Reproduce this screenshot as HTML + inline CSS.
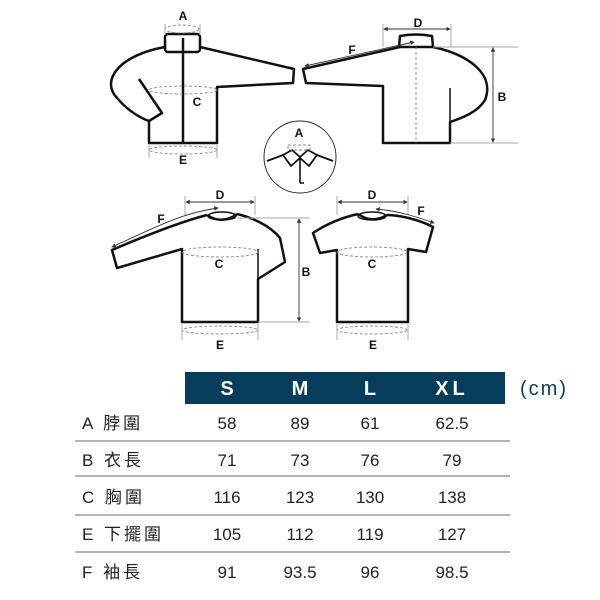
<!DOCTYPE html>
<html><head><meta charset="utf-8"><style>
html,body{margin:0;padding:0;background:#fff;width:600px;height:600px;overflow:hidden}
svg{display:block}
.t{font-family:"Liberation Sans","Noto Sans CJK TC",sans-serif;font-size:17px;fill:#222}
.lb{font-family:"Liberation Sans",sans-serif;font-weight:bold;font-size:12px;fill:#111}
</style></head><body>
<svg width="600" height="600" viewBox="0 0 600 600" xmlns="http://www.w3.org/2000/svg">
<defs><marker id="ar" viewBox="0 0 6 6" refX="5" refY="3" markerWidth="5" markerHeight="5" orient="auto-start-reverse"><path d="M0,0L6,3L0,6z" fill="#333"/></marker></defs>
<g fill="none" stroke="#111" stroke-width="2.5" stroke-linejoin="round">
<rect x="165" y="34" width="35" height="18" rx="3"/>
<path d="M200,47 L294,69 L293,83 L217,87 L217,143 L149,143 L149,121"/>
<path d="M165,47 C120,55 100,80 117,98 C127,110 140,118 149,121 L162,113 L139,79"/>
<line x1="183" y1="38" x2="183" y2="143"/>
<path d="M399,47 L400,36 Q416,33 432,36 L433,47"/>
<path d="M303,69 L400,47 L433,47 C470,55 495,75 485,100 C478,112 462,118 450,122 L450,143 L383,143 L383,86 L306,83 Z"/>
<line x1="450" y1="122" x2="450" y2="88" stroke-width="1.5"/>
<path d="M267,161 L283,155 L292,150 L300,157 L308,150 L317,155 L333,161" stroke-width="1.8"/>
<path d="M283,155 L291,166 L300,158 L309,166 L317,155" stroke-width="1.8"/>
<path d="M300,158 L300,183 M300,183 L304,183" stroke-width="1.6"/>
<path d="M207,215 C180,222 140,238 112,250 L117,268 L182,249 L182,322 L258,322 L258,279 L285,262 L280,238 C270,225 250,217 237,214"/>
<path d="M258,249 L258,279" stroke-width="1.5"/>
<path d="M207,215 Q222,225 237,214" />
<ellipse cx="222" cy="216" rx="14" ry="4" stroke-width="1.5"/>
<path d="M358,214 C340,218 325,225 313,233 L320,253 L337,250 L337,322 L408,322 L408,249 L426,252 L433,227 C420,220 400,215 387,215"/>
<path d="M358,214 Q372,224 387,215"/>
<ellipse cx="372" cy="216" rx="14" ry="4" stroke-width="1.5"/>
</g>
<circle cx="300" cy="157" r="36" fill="none" stroke="#333" stroke-width="1"/>
<g fill="none" stroke="#888" stroke-width="0.9" stroke-dasharray="3,2">
<ellipse cx="182" cy="29" rx="17" ry="4"/>
<ellipse cx="183" cy="90" rx="34" ry="4"/>
<ellipse cx="183" cy="150" rx="34" ry="4"/>
<line x1="416" y1="47" x2="416" y2="143"/>
<rect x="288" y="145" width="22" height="5"/>
<ellipse cx="220" cy="252" rx="38" ry="5"/>
<ellipse cx="220" cy="330" rx="38" ry="4"/>
<ellipse cx="372" cy="252" rx="35" ry="5"/>
<ellipse cx="372" cy="330" rx="35" ry="4"/>
</g>
<g stroke="#aaa" stroke-width="1">
<line x1="165" y1="24" x2="165" y2="35"/><line x1="200" y1="24" x2="200" y2="35"/>
<line x1="149" y1="145" x2="149" y2="158"/><line x1="217" y1="145" x2="217" y2="158"/>
<line x1="383" y1="24" x2="383" y2="47"/><line x1="451" y1="24" x2="451" y2="47"/>
<line x1="433" y1="47" x2="518" y2="47"/><line x1="450" y1="143" x2="518" y2="143"/>
<line x1="185" y1="196" x2="185" y2="215"/><line x1="255" y1="196" x2="255" y2="215"/>
<line x1="237" y1="218" x2="310" y2="218"/><line x1="258" y1="322" x2="310" y2="322"/>
<line x1="337" y1="196" x2="337" y2="215"/><line x1="408" y1="196" x2="408" y2="215"/>
<line x1="182" y1="324" x2="182" y2="340"/><line x1="258" y1="324" x2="258" y2="340"/>
<line x1="337" y1="324" x2="337" y2="340"/><line x1="408" y1="324" x2="408" y2="340"/>
</g>
<g stroke="#333" stroke-width="0.9" fill="none">
<line x1="384" y1="29" x2="450" y2="29" marker-start="url(#ar)" marker-end="url(#ar)"/>
<line x1="493" y1="48" x2="493" y2="142" marker-start="url(#ar)" marker-end="url(#ar)"/>
<line x1="305" y1="66" x2="414" y2="42" marker-start="url(#ar)" marker-end="url(#ar)"/>
<line x1="186" y1="202" x2="254" y2="202" marker-start="url(#ar)" marker-end="url(#ar)"/>
<line x1="338" y1="202" x2="407" y2="202" marker-start="url(#ar)" marker-end="url(#ar)"/>
<line x1="299" y1="219" x2="299" y2="321" marker-start="url(#ar)" marker-end="url(#ar)"/>
<path d="M112,247 C150,230 180,213 218,208" marker-start="url(#ar)" marker-end="url(#ar)"/>
<path d="M376,209 C400,211 420,218 434,223" marker-start="url(#ar)" marker-end="url(#ar)"/>
</g>
<g class="lb" text-anchor="middle">
<text x="183" y="20">A</text><text x="197" y="106">C</text><text x="183" y="164">E</text>
<text x="418" y="27">D</text><text x="352" y="54">F</text><text x="502" y="101">B</text>
<text x="299" y="137">A</text>
<text x="220" y="199">D</text><text x="161" y="223">F</text><text x="219" y="268">C</text><text x="220" y="349">E</text>
<text x="306" y="276">B</text>
<text x="372" y="199">D</text><text x="421" y="215">F</text><text x="372" y="268">C</text><text x="373" y="349">E</text>
</g>
<rect x="185" y="372" width="320" height="32" fill="#063d5c"/>
<g font-family="Liberation Sans,sans-serif" font-weight="bold" font-size="20" fill="#fff" text-anchor="middle">
<text x="227" y="395">S</text><text x="300" y="395">M</text><text x="370" y="395">L</text><text x="452" y="395" letter-spacing="4">XL</text>
</g>
<text x="544" y="395" text-anchor="middle" font-family="Liberation Sans,sans-serif" font-size="20" fill="#0d3b5a" letter-spacing="2">(cm)</text>
<g stroke="#888" stroke-width="1.2">
<line x1="75" y1="441" x2="510" y2="441"/><line x1="75" y1="476" x2="510" y2="476"/>
<line x1="75" y1="515" x2="510" y2="515"/><line x1="75" y1="552" x2="510" y2="552"/>
</g>
<g class="t" letter-spacing="3">
<text x="82" y="429">A 脖圍</text>
<text x="82" y="466">B 衣長</text>
<text x="82" y="503">C 胸圍</text>
<text x="82" y="540">E 下擺圍</text>
<text x="82" y="578">F 袖長</text>
</g>
<g class="t" text-anchor="middle">
<text x="227" y="429">58</text><text x="300" y="429">89</text><text x="370" y="429">61</text><text x="452" y="429">62.5</text>
<text x="227" y="466">71</text><text x="300" y="466">73</text><text x="370" y="466">76</text><text x="452" y="466">79</text>
<text x="227" y="503">116</text><text x="300" y="503">123</text><text x="370" y="503">130</text><text x="452" y="503">138</text>
<text x="227" y="540">105</text><text x="300" y="540">112</text><text x="370" y="540">119</text><text x="452" y="540">127</text>
<text x="227" y="578">91</text><text x="300" y="578">93.5</text><text x="370" y="578">96</text><text x="452" y="578">98.5</text>
</g>
</svg>
</body></html>
